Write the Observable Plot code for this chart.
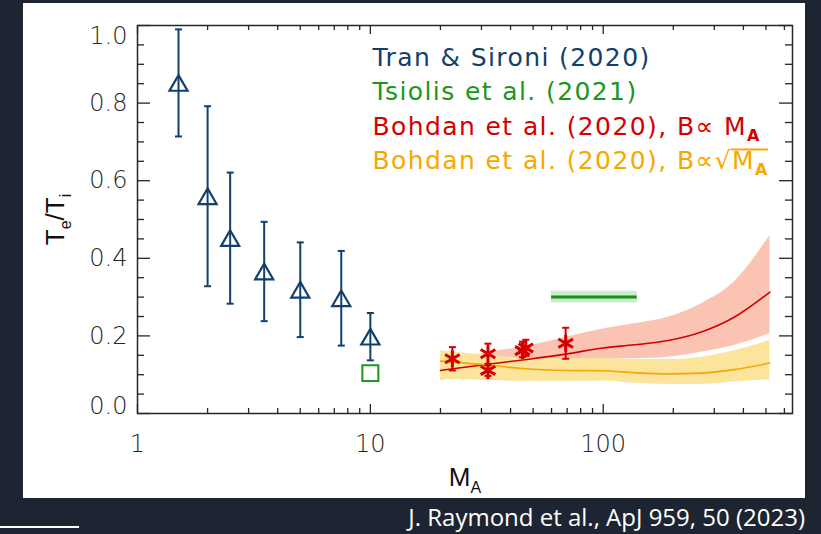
<!DOCTYPE html>
<html>
<head>
<meta charset="utf-8">
<script src="https://cdn.jsdelivr.net/npm/d3@7"></script>
<script src="https://cdn.jsdelivr.net/npm/@observablehq/plot@0.6"></script>
<style>
  html, body { margin: 0; padding: 0; background: #1e2532; width: 821px; height: 534px; overflow: hidden; }
  #panel { position: absolute; left: 23px; top: 3px; width: 782px; height: 495px; background: #ffffff; }
  #panel svg { display: block; overflow: visible; }
  #caption { position: absolute; right: 16px; top: 500px; color: #ffffff; font: 24px "Open Sans", sans-serif; white-space: nowrap; }
  #rule { position: absolute; left: 0; top: 526px; width: 79px; height: 2px; background: #ffffff; }
</style>
</head>
<body>
<div id="panel"></div>
<div id="caption">J. Raymond et al., ApJ 959, 50 (2023)</div>
<div id="rule"></div>
<script>
// ---- Tran & Sironi (2020): PIC runs, electron/ion temperature ratio vs Alfvén Mach number
const tranMA    = [1.5, 2, 2.5, 3.5, 5, 7.5, 10];
const tranRatio = [0.852, 0.56, 0.452, 0.366, 0.319, 0.297, 0.198];
const tranErr   = [0.138, 0.232, 0.169, 0.128, 0.122, 0.122, 0.061];

// ---- Tsiolis et al. (2021)
const tsiolisPointMA    = [10];
const tsiolisPointRatio = [0.104];
const tsiolisRangeMA    = [60, 140];
const tsiolisRangeRatio = [0.30];
const tsiolisRangeLow   = [0.285];
const tsiolisRangeHigh  = [0.315];

// ---- Bohdan et al. (2020) simulations
const bohdanMA    = [22.5, 32, 32, 45, 46.5, 69];
const bohdanRatio = [0.141, 0.154, 0.111, 0.162, 0.169, 0.181];
const bohdanLow   = [0.111, 0.128, 0.097, 0.145, 0.148, 0.141];
const bohdanHigh  = [0.171, 0.180, 0.124, 0.185, 0.190, 0.221];

// ---- Bohdan et al. (2020) scaling relations and their uncertainty bands
const fitMA          = [20, 32, 45, 69, 100, 136, 190, 264, 365, 520];
const fitLinear      = [0.111, 0.127, 0.138, 0.153, 0.169, 0.177, 0.188, 0.210, 0.248, 0.313];
const fitLinearHigh  = [0.128, 0.157, 0.171, 0.196, 0.218, 0.231, 0.248, 0.283, 0.339, 0.459];
const fitLinearLow   = [0.086, 0.098, 0.107, 0.120, 0.140, 0.141, 0.145, 0.158, 0.175, 0.206];
const fitSqrt        = [0.135, 0.125, 0.116, 0.111, 0.110, 0.105, 0.102, 0.104, 0.113, 0.130];
const fitSqrtHigh    = [0.162, 0.150, 0.143, 0.141, 0.142, 0.139, 0.139, 0.145, 0.162, 0.188];
const fitSqrtLow     = [0.088, 0.085, 0.083, 0.083, 0.084, 0.078, 0.075, 0.075, 0.081, 0.087];

// ---- axes
const xMajorTicks = [1, 10, 100];
const xTickLabels = ["1", "10", "100"];
const xMinorTicks = [2, 3, 4, 5, 6, 7, 8, 9, 20, 30, 40, 50, 60, 70, 80, 90, 200, 300, 400, 500, 600];
const yMajorTicks = [0, 0.2, 0.4, 0.6, 0.8, 1.0];
const yTickLabels = ["0.0", "0.2", "0.4", "0.6", "0.8", "1.0"];
const yMinorTicks = [0.05, 0.1, 0.15, 0.25, 0.3, 0.35, 0.45, 0.5, 0.55, 0.65, 0.7, 0.75, 0.85, 0.9, 0.95];

// ---- legend
const legendLabels = [
  [{t: "Tran & Sironi (2020)"}],
  [{t: "Tsiolis et al. (2021)"}],
  [{t: "Bohdan et al. (2020), B\u221d M"}, {t: "A", sub: true, bold: true}],
  [{t: "Bohdan et al. (2020), B\u221d"}, {t: "\u221a"}, {t: "M", over: true}, {t: "A", sub: true, bold: true, over: true}]
];
const legendColors = ["#123f6b", "#1c961c", "#d40000", "#f5a800"];

const navy = legendColors[0], green = legendColors[1], red = legendColors[2], orange = legendColors[3];
const axisInk = "#262626";

// tables built from the arrays
const tran = tranMA.map((x, i) => ({x, y: tranRatio[i], lo: tranRatio[i] - tranErr[i], hi: tranRatio[i] + tranErr[i]}));
const tranCaps = tran.flatMap(d => [{x: d.x, y: d.lo}, {x: d.x, y: d.hi}]);
const bohdan = bohdanMA.map((x, i) => ({x, y: bohdanRatio[i], lo: bohdanLow[i], hi: bohdanHigh[i]}));
const bohdanCaps = bohdan.flatMap(d => [{x: d.x, y: d.lo}, {x: d.x, y: d.hi}]);
const fitLin = fitMA.map((x, i) => ({x, y: fitLinear[i], lo: fitLinearLow[i], hi: fitLinearHigh[i]}));
const fitSq = fitMA.map((x, i) => ({x, y: fitSqrt[i], lo: fitSqrtLow[i], hi: fitSqrtHigh[i]}));
const tsiolisPoint = tsiolisPointMA.map((x, i) => ({x, y: tsiolisPointRatio[i]}));
const tsiolisRange = tsiolisRangeRatio.map((y, i) => ({x1: tsiolisRangeMA[0], x2: tsiolisRangeMA[1], y, lo: tsiolisRangeLow[i], hi: tsiolisRangeHigh[i]}));

// horizontal error-bar cap
const capSymbol = {
  draw(ctx, size) {
    const w = Math.sqrt(size) / 2;
    ctx.moveTo(-w, 0);
    ctx.lineTo(w, 0);
  }
};

const W = 782, H = 495, mL = 114, mT = 22, mR = 13, mB = 85;
const innerW = W - mL - mR, innerH = H - mT - mB;
const majorX = 9, minorX = 5, majorY = 13, minorY = 7;
const tickStyle = {stroke: axisInk, strokeWidth: 1.3};
const tickFont = {fontFamily: "DejaVu Sans", fontWeight: 200, fontSize: 24, fill: axisInk};
const yLabel = new Map(yMajorTicks.map((v, i) => [v, yTickLabels[i]]));
const xLabel = new Map(xMajorTicks.map((v, i) => [v, xTickLabels[i]]));

const plainText = parts => parts.map(p => p.t).join("");

const chart = Plot.plot({
  width: W, height: H,
  marginLeft: mL, marginTop: mT, marginRight: mR, marginBottom: mB,
  style: {background: "transparent", overflow: "visible"},
  x: {type: "log", domain: [1, 650]},
  y: {domain: [0, 1]},
  marks: [
    // uncertainty bands
    Plot.areaY(fitLin, {x: "x", y1: "lo", y2: "hi", fill: "#fbc4b2", curve: "monotone-x"}),
    Plot.areaY(fitSq, {x: "x", y1: "lo", y2: "hi", fill: "#fde49c", curve: "monotone-x"}),
    Plot.rect(tsiolisRange, {x1: "x1", x2: "x2", y1: "lo", y2: "hi", fill: "#c8edc8"}),
    Plot.ruleY(tsiolisRange, {x1: "x1", x2: "x2", y: "y", stroke: "#1a901a", strokeWidth: 3}),
    Plot.line(fitLin, {x: "x", y: "y", stroke: red, strokeWidth: 1.6, curve: "monotone-x"}),
    Plot.line(fitSq, {x: "x", y: "y", stroke: orange, strokeWidth: 1.6, curve: "monotone-x"}),

    // frame and inward ticks on all four sides
    Plot.frame({stroke: axisInk, strokeWidth: 1.5}),
    Plot.ruleX(xMajorTicks, {x: d => d, insetTop: innerH - majorX, ...tickStyle}),
    Plot.ruleX(xMinorTicks, {x: d => d, insetTop: innerH - minorX, ...tickStyle}),
    Plot.ruleX(xMajorTicks, {x: d => d, insetBottom: innerH - majorX, ...tickStyle}),
    Plot.ruleX(xMinorTicks, {x: d => d, insetBottom: innerH - minorX, ...tickStyle}),
    Plot.ruleY(yMajorTicks, {y: d => d, insetRight: innerW - majorY, ...tickStyle}),
    Plot.ruleY(yMinorTicks, {y: d => d, insetRight: innerW - minorY, ...tickStyle}),
    Plot.ruleY(yMajorTicks, {y: d => d, insetLeft: innerW - majorY, ...tickStyle}),
    Plot.ruleY(yMinorTicks, {y: d => d, insetLeft: innerW - minorY, ...tickStyle}),

    // tick labels
    Plot.axisX(xMajorTicks, {tickSize: 0, tickPadding: 21, tickFormat: d => xLabel.get(d), label: null, ...tickFont}),
    Plot.axisY(yMajorTicks.slice(1, -1), {tickSize: 0, tickPadding: 10, tickFormat: d => yLabel.get(d), label: null, ...tickFont}),
    Plot.axisY(yMajorTicks.slice(0, 1), {tickSize: 0, tickPadding: 10, dy: -7, tickFormat: d => yLabel.get(d), label: null, ...tickFont}),
    Plot.axisY(yMajorTicks.slice(-1), {tickSize: 0, tickPadding: 10, dy: 11, tickFormat: d => yLabel.get(d), label: null, ...tickFont}),

    // Tran & Sironi
    Plot.ruleX(tran, {x: "x", y1: "lo", y2: "hi", stroke: navy, strokeWidth: 2}),
    Plot.dot(tranCaps, {x: "x", y: "y", symbol: capSymbol, r: 3.95, stroke: navy, strokeWidth: 2, fill: "none"}),
    Plot.dot(tran, {x: "x", y: "y", symbol: "triangle", r: 6.7, dy: 2.6, stroke: navy, strokeWidth: 2.2, fill: "none"}),

    // Tsiolis point
    Plot.dot(tsiolisPoint, {x: "x", y: "y", symbol: "square", r: 9, stroke: green, strokeWidth: 2, fill: "none"}),

    // Bohdan simulation points
    Plot.ruleX(bohdan, {x: "x", y1: "lo", y2: "hi", stroke: red, strokeWidth: 2}),
    Plot.dot(bohdanCaps, {x: "x", y: "y", symbol: capSymbol, r: 3.95, stroke: red, strokeWidth: 2, fill: "none"}),
    Plot.dot(bohdan, {x: "x", y: "y", symbol: "asterisk", r: 8, stroke: red, strokeWidth: 3}),

    // legend
    ...legendLabels.map((parts, i) => Plot.text([plainText(parts)], {
      text: d => d, frameAnchor: "top-left", dx: 235, dy: 40 + i * 34.5,
      textAnchor: "start", lineAnchor: "bottom",
      fontFamily: "DejaVu Sans", fontSize: 25, fill: legendColors[i]
    })),

    // axis titles
    Plot.text(["Te/Ti"], {text: d => d, frameAnchor: "left", dx: -74, rotate: -90,
      textAnchor: "middle", lineAnchor: "bottom", fontFamily: "Liberation Sans", fontSize: 26, fill: "#111"}),
    Plot.text(["MA"], {text: d => d, frameAnchor: "bottom", dy: 72,
      textAnchor: "middle", lineAnchor: "bottom", fontFamily: "Liberation Sans", fontSize: 26, fill: "#111"})
  ]
});

document.getElementById("panel").appendChild(chart);

// rebuild labels that need subscripts / a radical bar as tspans
function setRich(svg, plain, parts, shift, subSize, extraStyle) {
  const el = Array.from(svg.querySelectorAll("text")).find(t => t.textContent === plain);
  if (!el) return;
  const sel = d3.select(el);
  sel.text(null);
  if (extraStyle) for (const k in extraStyle) sel.style(k, extraStyle[k]);
  let down = false;
  const over = [];
  for (const p of parts) {
    const ts = sel.append("tspan").text(p.t);
    if (p.sub && !down) { ts.attr("dy", shift); down = true; }
    else if (!p.sub && down) { ts.attr("dy", -shift); down = false; }
    if (p.sub) ts.attr("font-size", subSize);
    if (p.bold) ts.attr("font-weight", "bold");
    if (p.over) over.push(ts.node());
  }
  if (over.length) {
    // bar of the square root, drawn over the overlined parts
    const b1 = over[0].getBBox(), b2 = over[over.length - 1].getBBox();
    const base = el.getStartPositionOfChar(0).y;
    const fs = parseFloat(getComputedStyle(el).fontSize);
    const y = base - 0.78 * fs;
    d3.select(el.parentNode).append("line")
      .attr("transform", el.getAttribute("transform"))
      .attr("x1", b1.x - 1).attr("x2", b2.x + b2.width - 1)
      .attr("y1", y).attr("y2", y)
      .attr("stroke", getComputedStyle(el).fill).attr("stroke-width", 2);
  }
}

legendLabels.forEach(parts => setRich(chart, plainText(parts), parts, 6, 16, {"letter-spacing": "1.4px"}));
setRich(chart, "Te/Ti", [{t: "T"}, {t: "e", sub: true}, {t: "/T"}, {t: "i", sub: true}], 7, 16);
setRich(chart, "MA", [{t: "M"}, {t: "A", sub: true}], 7, 16);
</script>
</body>
</html>
